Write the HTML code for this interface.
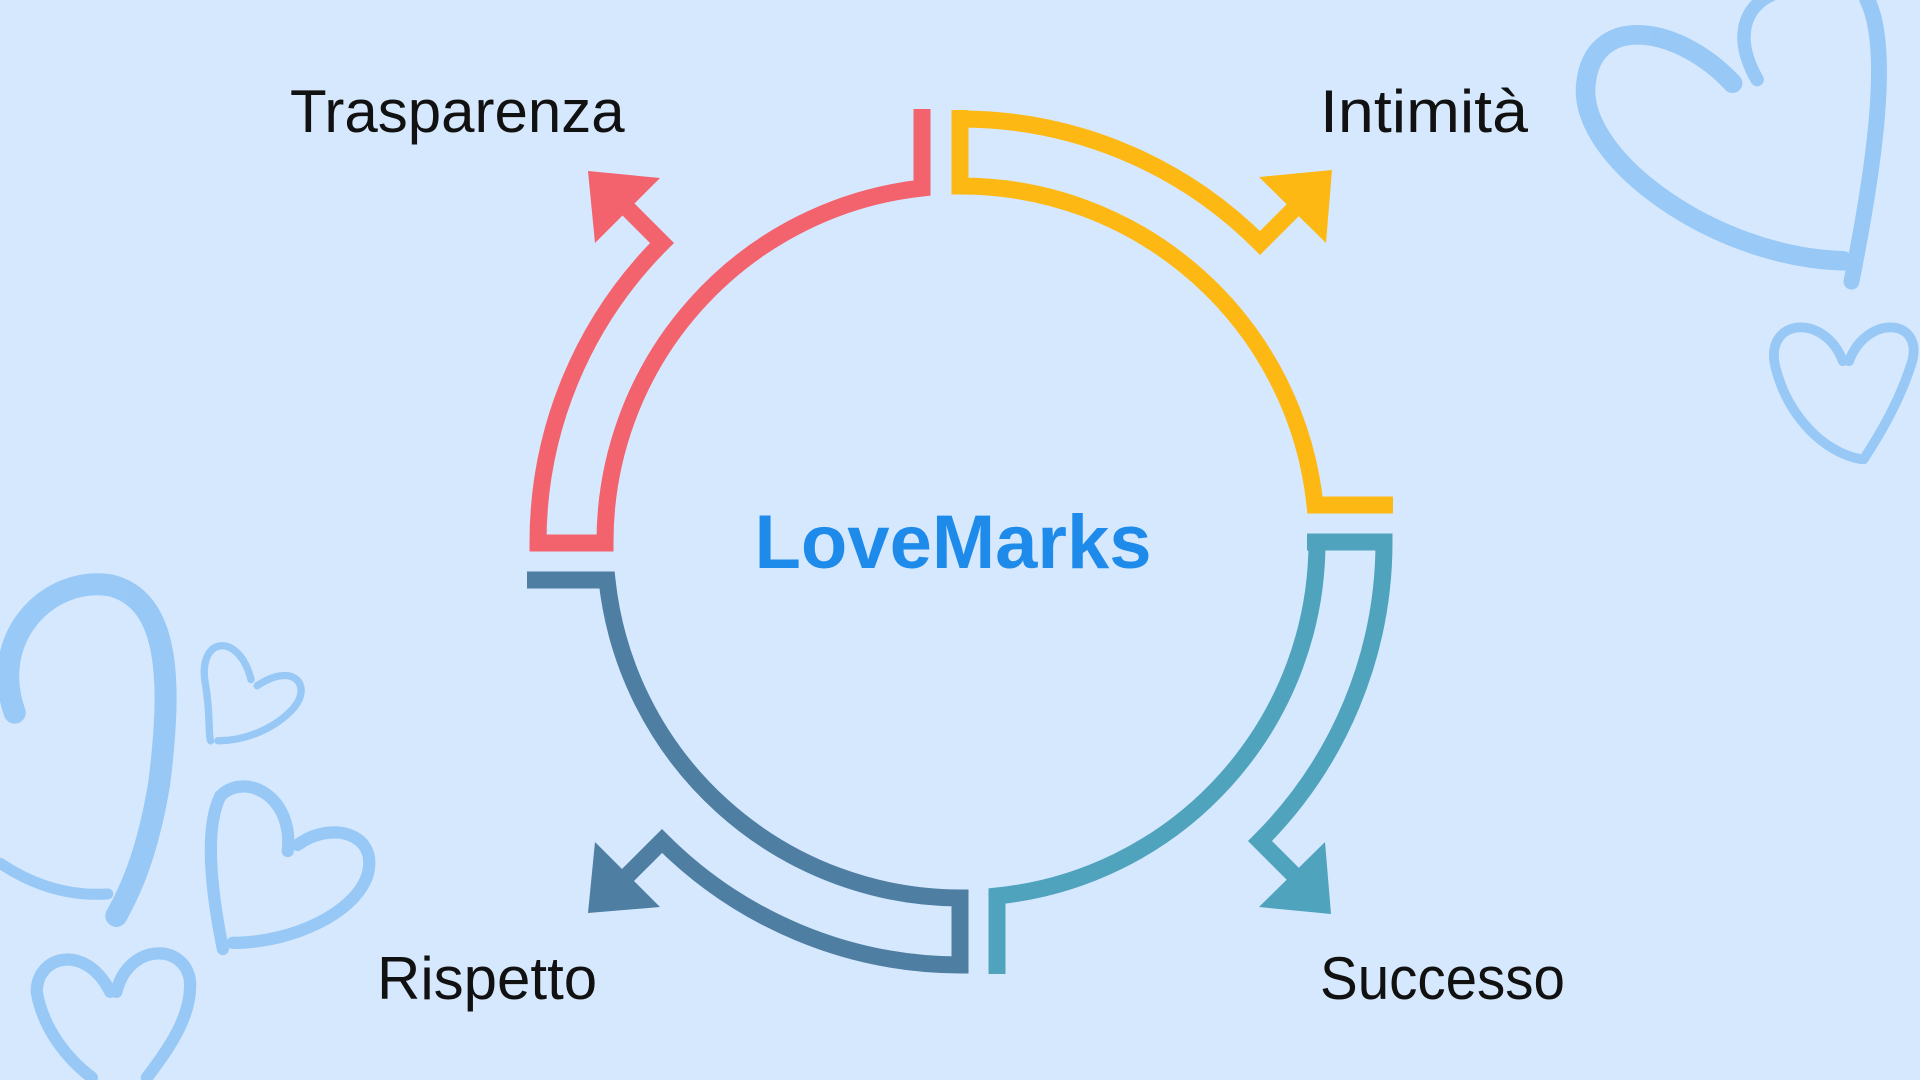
<!DOCTYPE html>
<html><head><meta charset="utf-8"><style>
html,body{margin:0;padding:0;background:#D6E8FD;}
svg{display:block}
</style></head><body>
<svg width="1920" height="1080" viewBox="0 0 1920 1080" xmlns="http://www.w3.org/2000/svg">
<rect width="1920" height="1080" fill="#D6E8FD"/>
<g transform="scale(1.22449)" fill="none" stroke="#8EC3F4" stroke-linecap="round" opacity="0.85">
  <path d="M1415,68 C1370,20 1300,10 1295,70 C1290,130 1400,210 1505,213" stroke-width="16"/>
  <path d="M1435,65 C1415,30 1425,5 1448,-5" stroke-width="11"/>
  <path d="M1525,0 C1545,40 1530,140 1512,230" stroke-width="13"/>
  <path d="M1505,295 C1490,255 1440,260 1450,300 C1460,340 1490,370 1520,375" stroke-width="8"/>
  <path d="M1510,295 C1525,255 1575,260 1560,300 C1550,330 1535,355 1522,375" stroke-width="8"/>
  <path d="M12,582 C-10,520 40,470 90,478 C140,490 140,560 130,640 C120,700 105,730 95,748" stroke-width="18"/>
  <path d="M0,705 C30,725 60,732 88,730" stroke-width="9"/>
  <path d="M205,555 C195,515 160,520 168,560 C172,585 170,600 172,605" stroke-width="6"/>
  <path d="M210,560 C240,540 255,560 240,578 C225,595 200,605 178,605" stroke-width="6"/>
  <path d="M235,695 C240,650 200,630 180,650 C165,680 175,740 182,775" stroke-width="10"/>
  <path d="M243,690 C270,670 310,680 300,715 C290,745 240,770 190,770" stroke-width="10"/>
  <path d="M90,810 C70,770 30,780 30,810 C35,840 55,865 75,880" stroke-width="10"/>
  <path d="M95,810 C105,770 150,770 155,800 C158,830 135,860 120,880" stroke-width="10"/>
</g>
<g fill="none" stroke-width="17" stroke-linejoin="miter">
  <path stroke="#F2636E" d="M922,109 L922,188 A356,356 0 0 0 605,543 L538,543 A423,423 0 0 1 662,243 L617,198"/>
  <polygon fill="#F2636E" stroke="none" points="588,171 660,178 595,243"/>
  <path stroke="#FDB813" d="M1393,505 L1315,505 A356,356 0 0 0 960,186 L960,119 A423,423 0 0 1 1260,243 L1302,201"/>
  <path stroke="#FDB813" d="M960,110 L960,194"/>
  <polygon fill="#FDB813" stroke="none" points="1259,177 1332,170 1326,243"/>
  <path stroke="#4FA3BD" d="M997,974 L997,896 A356,356 0 0 0 1317,542 L1384,542 A423,423 0 0 1 1260,841 L1302,883"/>
  <path stroke="#4FA3BD" d="M1307,542 L1392,542"/>
  <polygon fill="#4FA3BD" stroke="none" points="1325,842 1331,914 1259,907"/>
  <path stroke="#4F7EA3" d="M527,580 L607,580 A356,356 0 0 0 960,898 L960,965 A423,423 0 0 1 662,841 L620,883"/>
  <path stroke="#4F7EA3" d="M960,890 L960,973"/>
  <polygon fill="#4F7EA3" stroke="none" points="595,842 588,913 660,907"/>
</g>
<g font-family="'Liberation Sans', sans-serif" fill="#111">
  <text x="290" y="132" font-size="60">Trasparenza</text>
  <text x="1320" y="132" font-size="60" textLength="208" lengthAdjust="spacingAndGlyphs">Intimità</text>
  <text x="377" y="999" font-size="60">Rispetto</text>
  <text x="1320" y="999" font-size="60" textLength="245" lengthAdjust="spacingAndGlyphs">Successo</text>
  <text x="953" y="568" font-size="76" font-weight="bold" fill="#1E8BEA" text-anchor="middle">LoveMarks</text>
</g>
</svg>
</body></html>
